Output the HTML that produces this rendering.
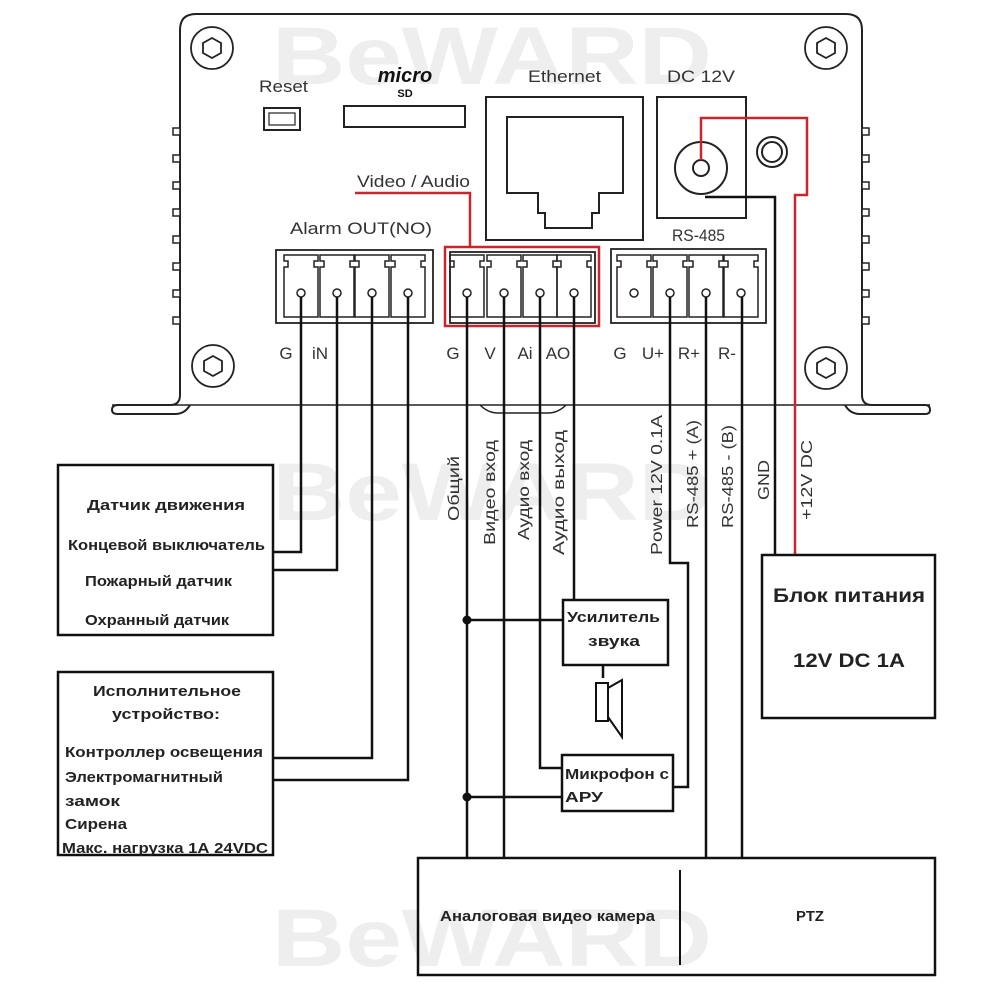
<!DOCTYPE html>
<html><head><meta charset="utf-8"><style>
html,body{margin:0;padding:0;background:#fff;}
svg{display:block;}
text{font-family:"Liberation Sans","DejaVu Sans",sans-serif;}
</style></head><body>
<svg width="1000" height="1000" viewBox="0 0 1000 1000" xmlns="http://www.w3.org/2000/svg">
<rect width="1000" height="1000" fill="#fff"/>
<!-- watermarks -->
<g fill="#eeeeee" font-weight="bold" font-size="82" text-anchor="middle">
<text x="492" y="84" textLength="440" lengthAdjust="spacingAndGlyphs">BeWARD</text>
<text x="492" y="520" textLength="440" lengthAdjust="spacingAndGlyphs">BeWARD</text>
<text x="492" y="966" textLength="440" lengthAdjust="spacingAndGlyphs">BeWARD</text>
</g>
<!-- panel body -->
<g fill="none" stroke="#222" stroke-width="2">
<path d="M180,30 Q180,14 196,14 L846,14 Q862,14 862,30 L862,395 Q862,405 872,405 L925,405 Q930,405 930,410 Q930,414 925,414 L860,414 Q850,414 845,405"/>
<path d="M180,30 L180,395 Q180,405 170,405 L118,405 Q112,405 112,410 Q112,414 118,414 L175,414 Q185,414 190,405"/>
<path d="M112,405 L930,405" stroke-width="1.5"/>
<path d="M480,405 Q488,413 498,413 L548,413 Q558,413 566,405" stroke-width="1.5"/>
</g>
<g fill="#fff" stroke="#222" stroke-width="1.5">
<rect x="173" y="128" width="7" height="7"/><rect x="173" y="155" width="7" height="7"/><rect x="173" y="182" width="7" height="7"/><rect x="173" y="209" width="7" height="7"/><rect x="173" y="236" width="7" height="7"/><rect x="173" y="263" width="7" height="7"/><rect x="173" y="290" width="7" height="7"/><rect x="173" y="317" width="7" height="7"/>
<rect x="862" y="128" width="7" height="7"/><rect x="862" y="155" width="7" height="7"/><rect x="862" y="182" width="7" height="7"/><rect x="862" y="209" width="7" height="7"/><rect x="862" y="236" width="7" height="7"/><rect x="862" y="263" width="7" height="7"/><rect x="862" y="290" width="7" height="7"/><rect x="862" y="317" width="7" height="7"/>
</g>
<g fill="none" stroke="#222" stroke-width="1.8">
<circle cx="212" cy="48" r="21"/><polygon points="212,38 221,43 221,53 212,58 203,53 203,43"/>
<circle cx="826" cy="48" r="21"/><polygon points="826,38 835,43 835,53 826,58 817,53 817,43"/>
<circle cx="213" cy="366" r="21"/><polygon points="213,356 222,361 222,371 213,376 204,371 204,361"/>
<circle cx="826" cy="368" r="21"/><polygon points="826,358 835,363 835,373 826,378 817,373 817,363"/>
</g>
<g font-size="17" fill="#333" lengthAdjust="spacingAndGlyphs">
<text x="259" y="92" textLength="49" lengthAdjust="spacingAndGlyphs">Reset</text>
<text x="528" y="82" textLength="73" lengthAdjust="spacingAndGlyphs">Ethernet</text>
<text x="667" y="82" textLength="68" lengthAdjust="spacingAndGlyphs">DC 12V</text>
<text x="290" y="234" textLength="142" lengthAdjust="spacingAndGlyphs">Alarm  OUT(NO)</text>
<text x="672" y="241" textLength="53" lengthAdjust="spacingAndGlyphs">RS-485</text>
<text x="357" y="187" textLength="113" lengthAdjust="spacingAndGlyphs">Video / Audio</text>
</g>
<text x="405" y="82" text-anchor="middle" font-size="20" font-weight="bold" fill="#111" font-style="italic">micro</text>
<text x="405" y="97" text-anchor="middle" font-size="11" font-weight="bold" fill="#111">SD</text>
<g fill="none" stroke="#222" stroke-width="2">
<rect x="264" y="108" width="36" height="22"/><rect x="269" y="113" width="26" height="12" stroke-width="1.2"/>
<rect x="344" y="106" width="121" height="21"/>
<rect x="486" y="97" width="157" height="143"/>
<path d="M507,117 L623,117 L623,193 L599,193 L599,213 L592,213 L592,228 L545,228 L545,213 L538,213 L538,193 L507,193 Z"/>
<rect x="657" y="97" width="89" height="121"/>
<circle cx="701" cy="168" r="26"/><circle cx="701" cy="168" r="8"/>
<circle cx="772" cy="152" r="15"/><circle cx="772" cy="152" r="10"/>
</g>
<g fill="none" stroke="#c8252c" stroke-width="2.5">
<path d="M701,160 L701,118 L807,118 L807,195 L795,195 L795,555"/>
<path d="M355,193 L470,193 L470,248"/>
<rect x="445" y="247" width="154" height="79"/>
</g>
<path d="M705,197 L775,197 L775,555" fill="none" stroke="#111" stroke-width="2.5"/>
<g fill="none" stroke="#222" stroke-width="1.8">
<rect x="276" y="250" width="157" height="73"/>
<rect x="450" y="252" width="145" height="71"/>
<rect x="611" y="249" width="155" height="74"/>
</g>
<g fill="none" stroke="#222" stroke-width="1.5">
<path d="M284,255 h34 v6 h-4 v6 h4 v50 h-34 v-50 h4 v-6 h-4z"/>
<path d="M320,255 h34 v6 h-4 v6 h4 v50 h-34 v-50 h4 v-6 h-4z"/>
<path d="M355,255 h34 v6 h-4 v6 h4 v50 h-34 v-50 h4 v-6 h-4z"/>
<path d="M391,255 h34 v6 h-4 v6 h4 v50 h-34 v-50 h4 v-6 h-4z"/>
<path d="M450,255 h34 v6 h-4 v6 h4 v50 h-34 v-50 h4 v-6 h-4z"/>
<path d="M487,255 h34 v6 h-4 v6 h4 v50 h-34 v-50 h4 v-6 h-4z"/>
<path d="M523,255 h34 v6 h-4 v6 h4 v50 h-34 v-50 h4 v-6 h-4z"/>
<path d="M557,255 h34 v6 h-4 v6 h4 v50 h-34 v-50 h4 v-6 h-4z"/>
<path d="M617,255 h34 v6 h-4 v6 h4 v50 h-34 v-50 h4 v-6 h-4z"/>
<path d="M653,255 h34 v6 h-4 v6 h4 v50 h-34 v-50 h4 v-6 h-4z"/>
<path d="M689,255 h34 v6 h-4 v6 h4 v50 h-34 v-50 h4 v-6 h-4z"/>
<path d="M724,255 h34 v6 h-4 v6 h4 v50 h-34 v-50 h4 v-6 h-4z"/>
</g>
<g fill="#fff" stroke="#222" stroke-width="1.5">
<circle cx="301" cy="293" r="4"/><circle cx="337" cy="293" r="4"/><circle cx="372" cy="293" r="4"/><circle cx="408" cy="293" r="4"/>
<circle cx="467" cy="293" r="4"/><circle cx="504" cy="293" r="4"/><circle cx="540" cy="293" r="4"/><circle cx="574" cy="293" r="4"/>
<circle cx="634" cy="293" r="4"/><circle cx="670" cy="293" r="4"/><circle cx="706" cy="293" r="4"/><circle cx="741" cy="293" r="4"/>
</g>
<g font-size="17" fill="#333" text-anchor="middle">
<text x="286" y="359">G</text><text x="320" y="359">iN</text>
<text x="453" y="359">G</text><text x="490" y="359">V</text><text x="525" y="359">Ai</text><text x="558" y="359">AO</text>
<text x="620" y="359">G</text><text x="653" y="359">U+</text><text x="689" y="359">R+</text><text x="727" y="359">R-</text>
</g>
<g fill="none" stroke="#111" stroke-width="2.5">
<path d="M301,297 V552 H273"/>
<path d="M337,297 V570 H273"/>
<path d="M372,297 V758 H273"/>
<path d="M408,297 V780 H273"/>
<path d="M467,297 V858"/>
<path d="M504,297 V858"/>
<path d="M540,297 V768 H563"/>
<path d="M574,297 V600"/>
<path d="M467,620 H563"/>
<path d="M467,797 H563"/>
<path d="M670,297 V563 H688 V787 H673"/>
<path d="M706,297 V858"/>
<path d="M742,297 V858"/>
<path d="M603,665 V678"/>
</g>
<circle cx="467" cy="620" r="4.5" fill="#111"/>
<circle cx="467" cy="797" r="4.5" fill="#111"/>
<g fill="none" stroke="#111" stroke-width="2.5">
<rect x="58" y="465" width="215" height="170"/>
<rect x="58" y="672" width="215" height="183"/>
<rect x="563" y="600" width="105" height="65"/>
<rect x="562" y="755" width="111" height="56"/>
<rect x="762" y="555" width="173" height="163"/>
<rect x="418" y="858" width="517" height="117"/>
</g>
<path d="M680,870 V965" stroke="#111" stroke-width="2"/>
<g fill="none" stroke="#111" stroke-width="2">
<rect x="596" y="683" width="12" height="38"/>
<path d="M608,688 L622,680 L622,737 L608,717"/>
</g>
<g font-size="15" font-weight="bold" fill="#222">
<text x="87" y="510" textLength="158" lengthAdjust="spacingAndGlyphs">Датчик движения</text>
<text x="68" y="550" textLength="197" lengthAdjust="spacingAndGlyphs">Концевой выключатель</text>
<text x="85" y="586" textLength="147" lengthAdjust="spacingAndGlyphs">Пожарный датчик</text>
<text x="85" y="625" textLength="144" lengthAdjust="spacingAndGlyphs">Охранный датчик</text>
<text x="93" y="696" textLength="148" lengthAdjust="spacingAndGlyphs">Исполнительное</text>
<text x="112" y="719" textLength="108" lengthAdjust="spacingAndGlyphs">устройство:</text>
<text x="65" y="757" textLength="198" lengthAdjust="spacingAndGlyphs">Контроллер освещения</text>
<text x="65" y="782" textLength="158" lengthAdjust="spacingAndGlyphs">Электромагнитный</text>
<text x="65" y="806" textLength="55" lengthAdjust="spacingAndGlyphs">замок</text>
<text x="65" y="829" textLength="62" lengthAdjust="spacingAndGlyphs">Сирена</text>
<text x="62" y="853" textLength="206" lengthAdjust="spacingAndGlyphs">Макс. нагрузка 1А 24VDC</text>
<text x="567" y="622" textLength="93" lengthAdjust="spacingAndGlyphs">Усилитель</text>
<text x="588" y="646" textLength="52" lengthAdjust="spacingAndGlyphs">звука</text>
<text x="565" y="779" textLength="104" lengthAdjust="spacingAndGlyphs">Микрофон с</text>
<text x="565" y="802" textLength="38" lengthAdjust="spacingAndGlyphs">АРУ</text>
<text x="440" y="921" textLength="215" lengthAdjust="spacingAndGlyphs">Аналоговая видео камера</text>
<text x="796" y="921" textLength="28" lengthAdjust="spacingAndGlyphs">PTZ</text>
</g>
<g font-size="19" font-weight="bold" fill="#222">
<text x="773" y="602" textLength="152" lengthAdjust="spacingAndGlyphs">Блок питания</text>
<text x="793" y="667" textLength="112" lengthAdjust="spacingAndGlyphs">12V DC 1A</text>
</g>
<g font-size="16" fill="#333">
<text transform="translate(459,521) rotate(-90)" textLength="65" lengthAdjust="spacingAndGlyphs">Общий</text>
<text transform="translate(495,545) rotate(-90)" textLength="105" lengthAdjust="spacingAndGlyphs">Видео вход</text>
<text transform="translate(529,540) rotate(-90)" textLength="100" lengthAdjust="spacingAndGlyphs">Аудио вход</text>
<text transform="translate(564,555) rotate(-90)" textLength="125" lengthAdjust="spacingAndGlyphs">Аудио выход</text>
<text transform="translate(662,555) rotate(-90)" textLength="140" lengthAdjust="spacingAndGlyphs">Power 12V 0.1A</text>
<text transform="translate(698,528) rotate(-90)" textLength="108" lengthAdjust="spacingAndGlyphs">RS-485 + (A)</text>
<text transform="translate(733,528) rotate(-90)" textLength="103" lengthAdjust="spacingAndGlyphs">RS-485 - (B)</text>
<text transform="translate(769,500) rotate(-90)" textLength="40" lengthAdjust="spacingAndGlyphs">GND</text>
<text transform="translate(812,520) rotate(-90)" textLength="80" lengthAdjust="spacingAndGlyphs">+12V DC</text>
</g>
</svg>
</body></html>
